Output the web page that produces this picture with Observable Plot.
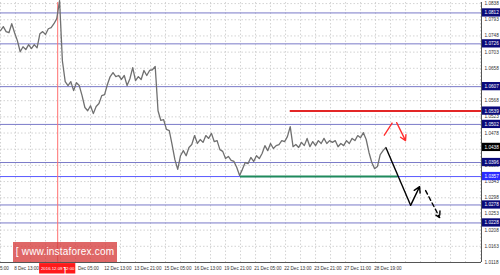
<!DOCTYPE html>
<html><head><meta charset="utf-8">
<script src="https://cdn.jsdelivr.net/npm/d3@7"></script>
<script src="https://cdn.jsdelivr.net/npm/@observablehq/plot@0.6"></script>
<style>
body{margin:0;background:#fff;}
#wrap{position:relative;width:500px;height:275px;overflow:hidden;}
#wm{position:absolute;left:13px;top:242px;width:104px;height:20px;background:rgba(214,60,60,0.78);color:#fff;font:10px "Liberation Sans",Arial,sans-serif;line-height:20px;text-align:center;letter-spacing:0.2px;}
</style></head>
<body><div id="wrap"><div id="chart"></div><div id="wm">[ www.instaforex.com ]</div></div>
<script>
// ---- data ----
const startBar = 18, barStep = 3;
const closes = [1.0763,1.0774,1.0760,1.0757,1.0782,1.0757,1.0735,1.0704,1.0718,1.0710,
1.0724,1.0713,1.0724,1.0715,1.0754,1.0760,1.0752,1.0768,1.0771,1.0782,
1.0796,1.0846,1.0679,1.0621,1.0610,1.0621,1.0596,1.0618,1.0610,1.0582,
1.0549,1.0540,1.0554,1.0532,1.0552,1.0560,1.0582,1.0585,1.0613,1.0635,
1.0646,1.0635,1.0638,1.0627,1.0638,1.0610,1.0629,1.0660,1.0624,1.0635,
1.0627,1.0652,1.0638,1.0652,1.0654,1.0663,1.0540,1.0513,1.0515,1.0488,
1.0485,1.0446,1.0404,1.0377,1.0415,1.0429,1.0415,1.0438,1.0446,1.0471,
1.0449,1.0460,1.0452,1.0471,1.0463,1.0477,1.0454,1.0457,1.0432,1.0427,
1.0407,1.0413,1.0402,1.0399,1.0382,1.0360,1.0377,1.0396,1.0393,1.0410,
1.0399,1.0415,1.0407,1.0421,1.0443,1.0429,1.0449,1.0435,1.0443,1.0446,
1.0457,1.0454,1.0468,1.0496,1.0440,1.0446,1.0438,1.0452,1.0443,1.0463,
1.0440,1.0454,1.0443,1.0457,1.0449,1.0463,1.0449,1.0457,1.0452,1.0457,
1.0440,1.0449,1.0443,1.0457,1.0449,1.0463,1.0457,1.0471,1.0465,1.0479,
1.0460,1.0424,1.0396,1.0379,1.0385,1.0418,1.0429,1.0438];
const levels = [1.0812,1.0726,1.0607,1.0502,1.0396,1.0357,1.0278,1.0228];
const resistance = {price:1.0539, from:327, to:531};
const support = {price:1.0357, from:274, to:442};
const currentPrice = 1.0438;
const yTicks = [1.0838,1.0793,1.0748,1.0703,1.0658,1.0568,1.0523,1.0478,1.0388,1.0343,1.0298,1.0253,1.0208,1.0163,1.0118];
const yGrid = [1.0838,1.0793,1.0748,1.0703,1.0658,1.0613,1.0568,1.0523,1.0478,1.0433,1.0388,1.0343,1.0298,1.0253,1.0208,1.0163];
const xLabelBars = [0,32,100,128,160,192,224,256,288,320,352,384,416];
const xLabels = ["7 Dec 05:00","8 Dec 13:00","Dec 05:00","12 Dec 13:00","13 Dec 21:00","15 Dec 05:00","16 Dec 13:00","19 Dec 21:00","21 Dec 05:00","22 Dec 13:00","23 Dec 21:00","27 Dec 11:00","28 Dec 19:00"];
const markerBar = 79, markerLabel = "2016.12.09 12:00";
// scenario paths (bar, price)
const redUp = [[427,1.0471],[436,1.0507]];
const redDown = [[440.5,1.0507],[450,1.0457]];
const blackDown = [[429,1.0438],[455.4,1.0277]];
const blackUp = [[455.4,1.0277],[465,1.0329]];
const blackDashed = [[471.4,1.0318],[486.4,1.0243]];

const xMin = 18, xMax = 531, yMin = 1.0118, yMax = 1.0841;
const series = closes.map((c,i)=>({bar:startBar+i*barStep, price:c}));
const gridBars = d3.range(2, xMax, 16);
const fnt = '"Liberation Sans", Arial, sans-serif';
const boxH = 0.00115;
const levelColor = v => v===1.0357 ? "#5a5aff" : "#7a7ac8";
const boxColor = v => v===1.0357 ? "#2a2aff" : "#0a0a7a";
const labelLevels = [...levels, resistance.price];

const chart = Plot.plot({
  width:500, height:275, marginLeft:0, marginRight:19, marginTop:2, marginBottom:13,
  style:{fontFamily:fnt, background:"#fff"},
  x:{domain:[xMin,xMax], axis:null},
  y:{domain:[yMin,yMax], axis:null},
  marks:[
    Plot.ruleY(yGrid, {stroke:"#c8c8c8", strokeDasharray:"1.5,2", strokeWidth:0.8}),
    Plot.ruleX(gridBars, {stroke:"#c8c8c8", strokeDasharray:"1.5,2", strokeWidth:0.8}),
    Plot.ruleY(levels, {y:d=>d, stroke:levelColor, strokeWidth:1}),
    Plot.ruleX([markerBar], {stroke:"#ff7070", strokeWidth:1}),
    Plot.line(series, {x:"bar", y:"price", stroke:"#707070", strokeWidth:1.3}),
    Plot.ruleY([resistance], {y:"price", x1:"from", x2:"to", stroke:"#e32626", strokeWidth:2}),
    Plot.ruleY([support], {y:"price", x1:"from", x2:"to", stroke:"#1f8a5c", strokeWidth:2}),
    Plot.link([redUp], {x1:d=>d[0][0], y1:d=>d[0][1], x2:d=>d[1][0], y2:d=>d[1][1], stroke:"#ff2a2a", strokeWidth:1.3}),
    Plot.arrow([redDown], {x1:d=>d[0][0], y1:d=>d[0][1], x2:d=>d[1][0], y2:d=>d[1][1], stroke:"#ff2a2a", strokeWidth:1.3, headLength:7}),
    Plot.link([blackDown], {x1:d=>d[0][0], y1:d=>d[0][1], x2:d=>d[1][0], y2:d=>d[1][1], stroke:"#000", strokeWidth:1.4}),
    Plot.arrow([blackUp], {x1:d=>d[0][0], y1:d=>d[0][1], x2:d=>d[1][0], y2:d=>d[1][1], stroke:"#000", strokeWidth:1.4, headLength:7}),
    Plot.arrow([blackDashed], {x1:d=>d[0][0], y1:d=>d[0][1], x2:d=>d[1][0], y2:d=>d[1][1], stroke:"#000", strokeWidth:1.4, strokeDasharray:"4,3", headLength:7}),
    Plot.ruleX([xMax], {stroke:"#555", strokeWidth:1}),
    Plot.ruleY([yMin], {stroke:"#555", strokeWidth:1}),
    Plot.text(yTicks, {x:()=>xMax, y:d=>d, text:d=>d.toFixed(4), dx:3, textAnchor:"start", fontSize:4.7, fill:"#333"}),
    Plot.rect(labelLevels, {x1:()=>xMax+1, x2:()=>xMax+21, y1:d=>d-boxH, y2:d=>d+boxH, fill:boxColor}),
    Plot.text(labelLevels, {x:()=>xMax, y:d=>d, text:d=>d.toFixed(4), dx:3, textAnchor:"start", fontSize:4.7, fill:"#fff"}),
    Plot.rect([currentPrice], {x1:()=>xMax+1, x2:()=>xMax+21, y1:d=>d-boxH, y2:d=>d+boxH, fill:"#000"}),
    Plot.text([currentPrice], {x:()=>xMax, y:d=>d, text:d=>d.toFixed(4), dx:3, textAnchor:"start", fontSize:4.7, fill:"#fff"}),
    Plot.text(xLabelBars, {x:d=>d, y:()=>yMin, text:(d,i)=>xLabels[i], dy:6, dx:0.5, textAnchor:"start", fontSize:4.6, fill:"#333"}),
    Plot.rect([markerBar], {x1:d=>d-19.3, x2:d=>d+19.3, y1:()=>yMin-0.0003, y2:()=>yMin-0.0032, fill:"#ff1a1a"}),
    Plot.text([markerBar], {x:d=>d, y:()=>yMin, text:()=>markerLabel, dy:6, textAnchor:"middle", fontSize:4.3, fill:"#fff"})
  ]
});
document.getElementById("chart").appendChild(chart);
</script></body></html>
